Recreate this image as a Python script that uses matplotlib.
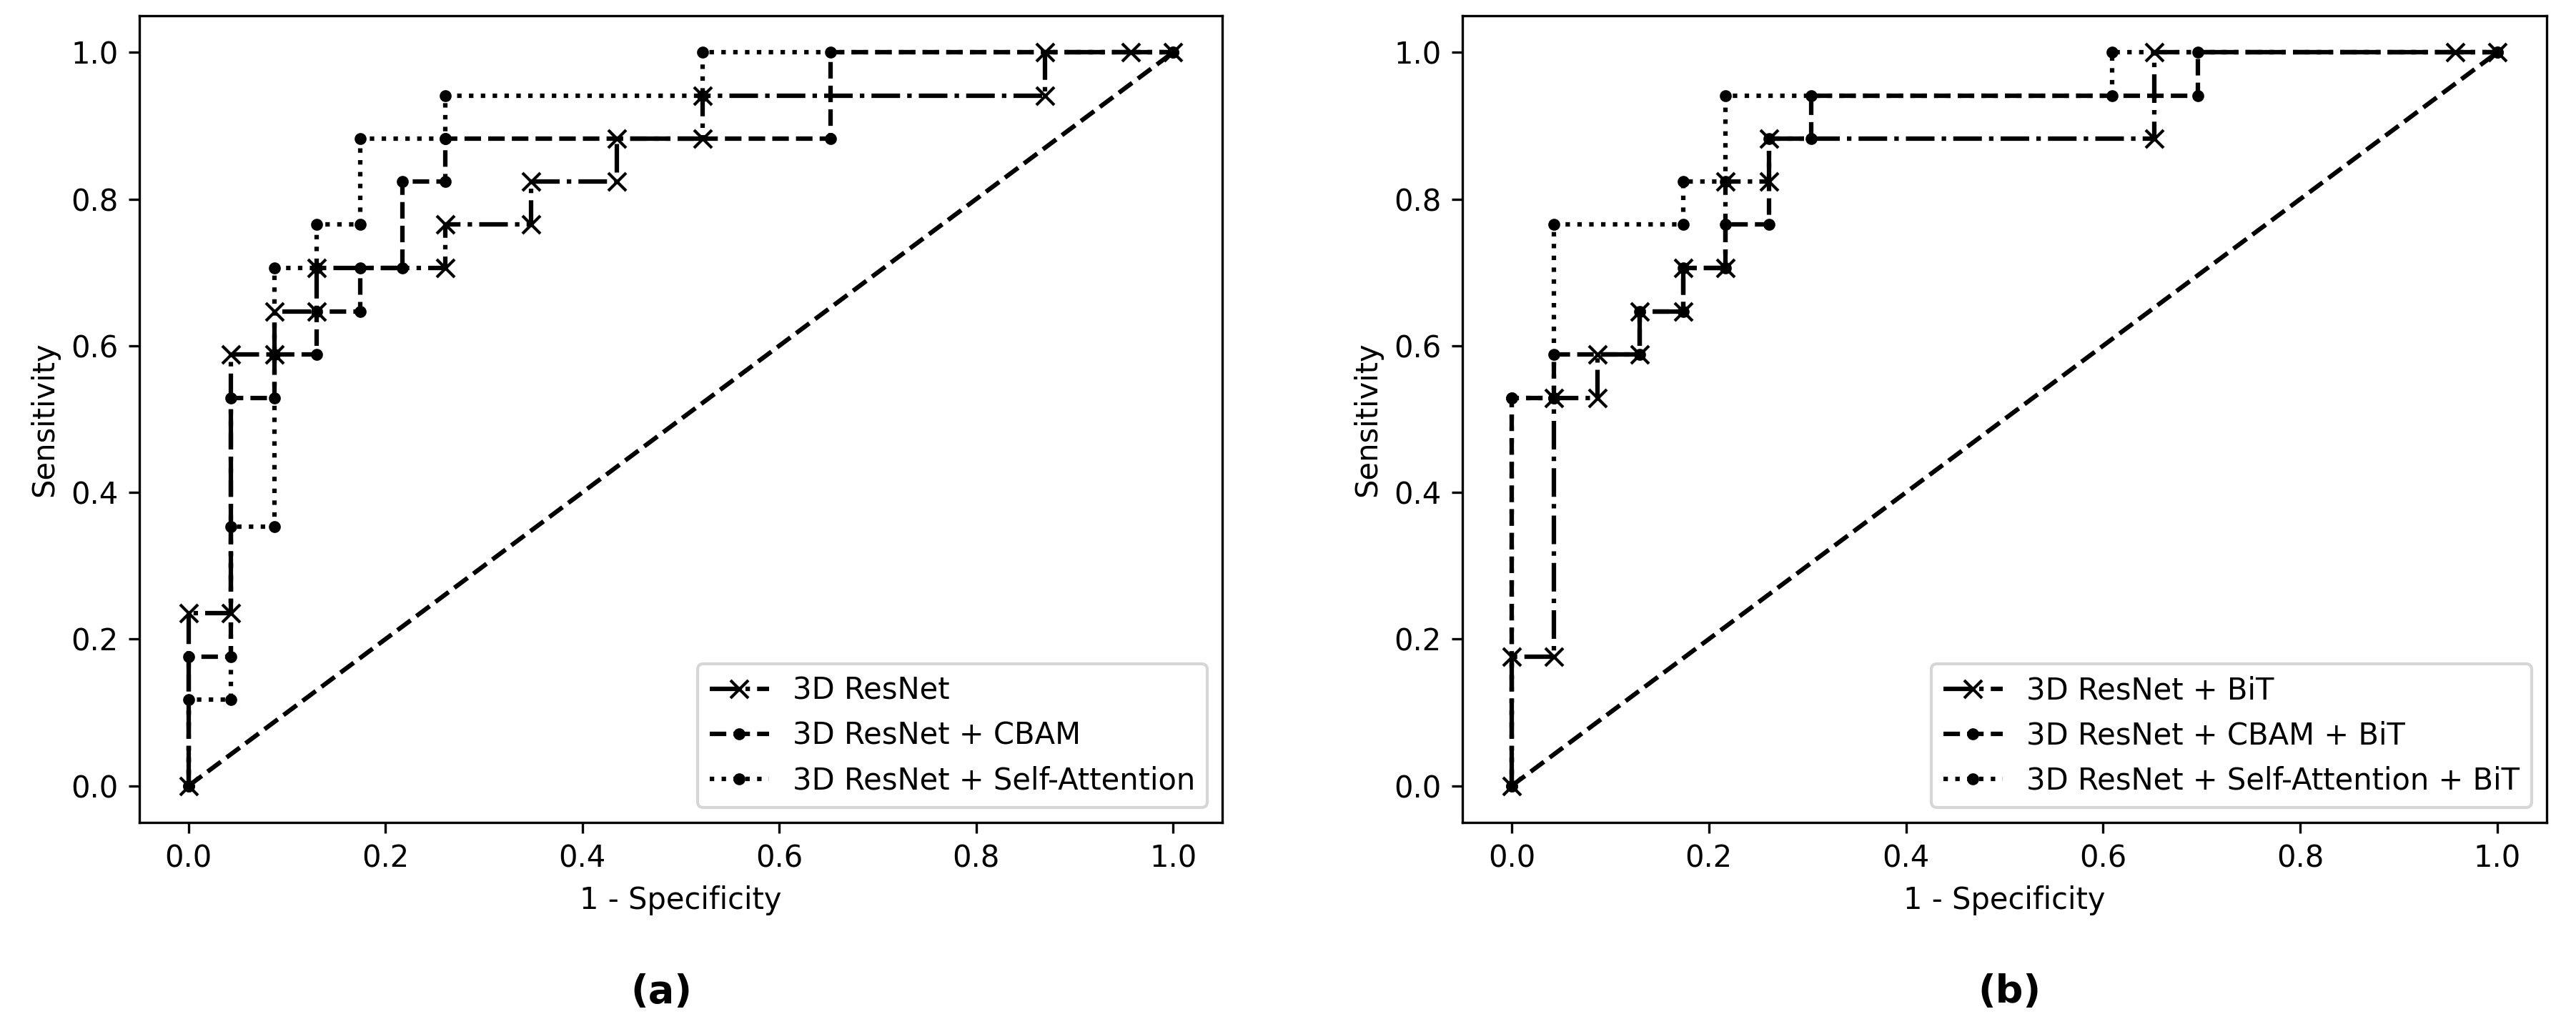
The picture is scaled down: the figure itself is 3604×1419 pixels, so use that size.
import matplotlib.pyplot as plt

# (a) models without BiT
resnet_fpr_a = [0.0, 0.0, 0.043, 0.043, 0.087, 0.087, 0.130, 0.130, 0.261, 0.261, 0.348, 0.348,
                0.435, 0.435, 0.522, 0.522, 0.870, 0.870, 0.957, 1.0]
resnet_tpr_a = [0.0, 0.235, 0.235, 0.588, 0.588, 0.647, 0.647, 0.706, 0.706, 0.765, 0.765, 0.824,
                0.824, 0.882, 0.882, 0.941, 0.941, 1.0, 1.0, 1.0]
cbam_fpr_a = [0.0, 0.0, 0.043, 0.043, 0.087, 0.087, 0.130, 0.130, 0.174, 0.174, 0.217, 0.217,
              0.261, 0.261, 0.652, 0.652, 1.0]
cbam_tpr_a = [0.0, 0.176, 0.176, 0.529, 0.529, 0.588, 0.588, 0.647, 0.647, 0.706, 0.706, 0.824,
              0.824, 0.882, 0.882, 1.0, 1.0]
sa_fpr_a = [0.0, 0.0, 0.043, 0.043, 0.087, 0.087, 0.130, 0.130, 0.174, 0.174, 0.261, 0.261,
            0.522, 0.522, 1.0]
sa_tpr_a = [0.0, 0.118, 0.118, 0.353, 0.353, 0.706, 0.706, 0.765, 0.765, 0.882, 0.882, 0.941,
            0.941, 1.0, 1.0]

# (b) models with BiT
resnet_fpr_b = [0.0, 0.0, 0.043, 0.043, 0.087, 0.087, 0.130, 0.130, 0.174, 0.174, 0.217, 0.217,
                0.261, 0.261, 0.652, 0.652, 0.957, 1.0]
resnet_tpr_b = [0.0, 0.176, 0.176, 0.529, 0.529, 0.588, 0.588, 0.647, 0.647, 0.706, 0.706, 0.824,
                0.824, 0.882, 0.882, 1.0, 1.0, 1.0]
cbam_fpr_b = [0.0, 0.0, 0.043, 0.043, 0.130, 0.130, 0.174, 0.174, 0.217, 0.217, 0.261, 0.261,
              0.304, 0.304, 0.696, 0.696, 1.0]
cbam_tpr_b = [0.0, 0.529, 0.529, 0.588, 0.588, 0.647, 0.647, 0.706, 0.706, 0.765, 0.765, 0.882,
              0.882, 0.941, 0.941, 1.0, 1.0]
sa_fpr_b = [0.0, 0.0, 0.043, 0.043, 0.174, 0.174, 0.217, 0.217, 0.609, 0.609, 1.0]
sa_tpr_b = [0.0, 0.529, 0.529, 0.765, 0.765, 0.824, 0.824, 0.941, 0.941, 1.0, 1.0]

labels_a = ["3D ResNet", "3D ResNet + CBAM", "3D ResNet + Self-Attention"]
labels_b = ["3D ResNet + BiT", "3D ResNet + CBAM + BiT", "3D ResNet + Self-Attention + BiT"]


def draw_roc(ax, curves, labels):
    styles = [("-.", "x"), ("--", "."), (":", ".")]
    for (fpr, tpr), label, (ls, mk) in zip(curves, labels, styles):
        ax.plot(fpr, tpr, linestyle=ls, marker=mk, color="black", label=label)
    ax.plot([0, 1], [0, 1], "k--")
    ax.set_xlabel("1 - Specificity")
    ax.set_ylabel("Sensitivity")
    ax.legend(loc="lower right")


if __name__ == "__main__":
    fig = plt.figure(figsize=(3604 / 300, 1419 / 300), dpi=300)
    ax1 = fig.add_axes([0.0541, 0.1889, 0.4204, 0.7956])
    ax2 = fig.add_axes([0.5677, 0.1889, 0.4209, 0.7956])

    draw_roc(ax1, [(resnet_fpr_a, resnet_tpr_a), (cbam_fpr_a, cbam_tpr_a), (sa_fpr_a, sa_tpr_a)], labels_a)
    draw_roc(ax2, [(resnet_fpr_b, resnet_tpr_b), (cbam_fpr_b, cbam_tpr_b), (sa_fpr_b, sa_tpr_b)], labels_b)

    fig.text(925 / 3604, 1 - 1388 / 1419, "(a)", ha="center", va="center", fontsize=13, fontweight="bold")
    fig.text(2811 / 3604, 1 - 1388 / 1419, "(b)", ha="center", va="center", fontsize=13, fontweight="bold")

    plt.savefig("out.png", dpi=300)
